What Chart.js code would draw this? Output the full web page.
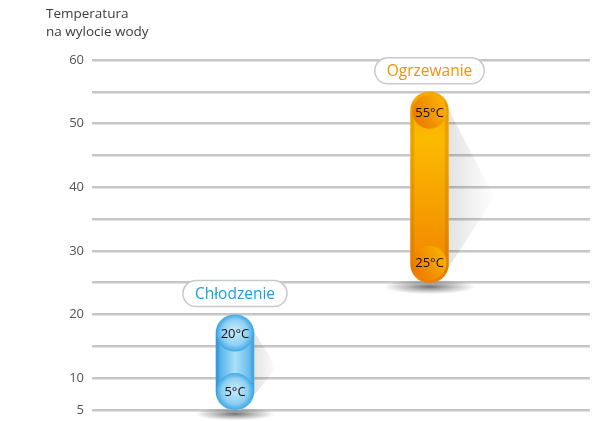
<!DOCTYPE html>
<html>
<head>
<meta charset="utf-8">
<script src="https://cdn.jsdelivr.net/npm/chart.js@4.4.1/dist/chart.umd.min.js"></script>
<style>
  html, body { margin: 0; padding: 0; background: #ffffff; }
  #wrap { width: 602px; height: 421px; }
</style>
</head>
<body>
<div id="wrap"><canvas id="chart" width="602" height="421"></canvas></div>
<script>
// Operating ranges of outlet water temperature (°C)
const categories = ['Chłodzenie', 'Ogrzewanie'];
const lowTemps = [5, 25];
const highTemps = [20, 55];
const labeledTicks = [5, 10, 20, 30, 40, 50, 60];
const axisTitle = ['Temperatura', 'na wylocie wody'];

const FONT = '"Open Sans", "Noto Sans", sans-serif';

// Visual theme per category
const themes = [
  { text: '#1c9fdb', kind: 'cool' },
  { text: '#f39200', kind: 'warm' }
];

function roundRect(ctx, x, y, w, h, r) {
  ctx.beginPath();
  ctx.moveTo(x + r, y);
  ctx.lineTo(x + w - r, y);
  ctx.arc(x + w - r, y + r, r, -Math.PI / 2, 0);
  ctx.lineTo(x + w, y + h - r);
  ctx.arc(x + w - r, y + h - r, r, 0, Math.PI / 2);
  ctx.lineTo(x + r, y + h);
  ctx.arc(x + r, y + h - r, r, Math.PI / 2, Math.PI);
  ctx.lineTo(x, y + r);
  ctx.arc(x + r, y + r, r, Math.PI, Math.PI * 1.5);
  ctx.closePath();
}

function barFill(context) {
  const chart = context.chart;
  const i = context.dataIndex;
  if (!chart.chartArea || i === undefined) return '#f5a000';
  const ctx = chart.ctx;
  const ys = chart.scales.y;
  const xs = chart.scales.x;
  const top = ys.getPixelForValue(highTemps[i]);
  const bottom = ys.getPixelForValue(lowTemps[i]);
  if (themes[i].kind === 'warm') {
    const g = ctx.createLinearGradient(0, top, 0, bottom);
    g.addColorStop(0, '#f7a800');
    g.addColorStop(0.25, '#fbba00');
    g.addColorStop(0.6, '#f6a000');
    g.addColorStop(1, '#f08000');
    return g;
  }
  const cx = xs.getPixelForValue(i);
  const g = ctx.createLinearGradient(cx - 19, 0, cx + 19, 0);
  g.addColorStop(0, '#3aa7e6');
  g.addColorStop(0.5, '#ace0f8');
  g.addColorStop(1, '#4fb2ea');
  return g;
}

// Shadows, end caps, value texts and category badges around each range bar
const pillDecor = {
  id: 'pillDecor',
  beforeDatasetsDraw(chart) {
    const ctx = chart.ctx;
    const meta = chart.getDatasetMeta(0);
    meta.data.forEach((bar, i) => {
      const { x, y, base, width } = bar.getProps(['x', 'y', 'base', 'width'], true);
      const h = base - y;
      const right = x + width / 2;
      // slanted soft shadow to the right
      const dx = Math.min(46, h * 0.24);
      ctx.save();
      const sg = ctx.createLinearGradient(right, 0, right + dx, 0);
      sg.addColorStop(0, 'rgba(0,0,0,0.11)');
      sg.addColorStop(1, 'rgba(0,0,0,0)');
      ctx.fillStyle = sg;
      ctx.beginPath();
      ctx.moveTo(right - 2, y + 14);
      ctx.lineTo(right + dx, y + h * 0.55);
      ctx.lineTo(right - 2, base - 12);
      ctx.closePath();
      ctx.fill();
      // floor shadow
      const rx = themes[i].kind === 'warm' ? 46 : 40;
      ctx.translate(x, base + 4);
      ctx.scale(1, 0.16);
      const rg = ctx.createRadialGradient(0, 0, 0, 0, 0, rx);
      rg.addColorStop(0, 'rgba(0,0,0,0.55)');
      rg.addColorStop(0.5, 'rgba(0,0,0,0.25)');
      rg.addColorStop(1, 'rgba(0,0,0,0)');
      ctx.fillStyle = rg;
      ctx.beginPath();
      ctx.arc(0, 0, rx, 0, Math.PI * 2);
      ctx.fill();
      ctx.restore();
    });
  },
  afterDatasetsDraw(chart) {
    const ctx = chart.ctx;
    const meta = chart.getDatasetMeta(0);
    meta.data.forEach((bar, i) => {
      const { x, y, base, width } = bar.getProps(['x', 'y', 'base', 'width'], true);
      const theme = themes[i];
      const warm = theme.kind === 'warm';
      const r = warm ? 17 : 18.5;
      const inset = warm ? 20 : 18.5;
      const caps = [
        { cy: y + inset, label: highTemps[i] + '°C' },
        { cy: base - inset, label: lowTemps[i] + '°C' }
      ];
      // edge shading on the body
      ctx.save();
      roundRect(ctx, x - width / 2, y, width, base - y, width / 2);
      ctx.clip();
      const eg = ctx.createLinearGradient(x - width / 2, 0, x + width / 2, 0);
      const edge = warm ? 'rgba(225,110,0,0.3)' : 'rgba(20,120,200,0.25)';
      eg.addColorStop(0, edge);
      eg.addColorStop(0.12, 'rgba(0,0,0,0)');
      eg.addColorStop(0.88, 'rgba(0,0,0,0)');
      eg.addColorStop(1, edge);
      ctx.fillStyle = eg;
      ctx.fillRect(x - width / 2, y, width, base - y);
      ctx.restore();

      caps.forEach(c => {
        ctx.save();
        let g;
        if (warm) {
          g = ctx.createLinearGradient(x - r, c.cy + r * 0.5, x + r, c.cy - r * 0.5);
          g.addColorStop(0, '#ec7600');
          g.addColorStop(1, '#f9b400');
        } else {
          g = ctx.createRadialGradient(x, c.cy - 2, 2, x, c.cy, r);
          g.addColorStop(0, '#c2e7f9');
          g.addColorStop(0.65, '#8fd0f3');
          g.addColorStop(1, '#3fa8e6');
        }
        ctx.fillStyle = g;
        ctx.beginPath();
        ctx.arc(x, c.cy, r, 0, Math.PI * 2);
        ctx.fill();
        ctx.fillStyle = '#111111';
        ctx.font = '13px ' + FONT;
        ctx.textAlign = 'center';
        ctx.textBaseline = 'middle';
        ctx.fillText(c.label, x, c.cy + 1);
        ctx.restore();
      });

      // category badge above the bar
      ctx.save();
      ctx.font = '15.5px ' + FONT;
      const tw = ctx.measureText(categories[i]).width;
      const bw = tw + 24, bh = 26;
      const bcy = y - 21;
      roundRect(ctx, x - bw / 2, bcy - bh / 2, bw, bh, bh / 2);
      ctx.fillStyle = '#ffffff';
      ctx.fill();
      ctx.lineWidth = 1.5;
      ctx.strokeStyle = '#c9c9c9';
      ctx.stroke();
      ctx.fillStyle = theme.text;
      ctx.textAlign = 'center';
      ctx.textBaseline = 'middle';
      ctx.fillText(categories[i], x, bcy + 1);
      ctx.restore();
    });
  },
  afterDraw(chart) {
    const ctx = chart.ctx;
    ctx.save();
    ctx.fillStyle = '#3c3c3c';
    ctx.font = '13.5px ' + FONT;
    ctx.textAlign = 'left';
    ctx.textBaseline = 'alphabetic';
    axisTitle.forEach((line, k) => ctx.fillText(line, 46, 18 + k * 18));
    ctx.restore();
  }
};

new Chart(document.getElementById('chart'), {
  type: 'bar',
  data: {
    datasets: [{
      label: 'Zakres temperatury',
      data: categories.map((c, i) => ({ x: i, y: [lowTemps[i], highTemps[i]] })),
      backgroundColor: barFill,
      borderWidth: 0,
      borderRadius: 19,
      borderSkipped: false,
      barThickness: 38
    }]
  },
  options: {
    responsive: false,
    animation: false,
    devicePixelRatio: 1,
    layout: { padding: { top: 60, bottom: 11, right: 12, left: 0 } },
    plugins: {
      legend: { display: false },
      tooltip: { enabled: false },
      title: { display: false }
    },
    scales: {
      x: {
        type: 'linear',
        display: false,
        offset: false,
        min: -0.735,
        max: 1.825
      },
      y: {
        min: 5,
        max: 60,
        afterFit(scale) {
          scale.width = 92;
          scale.paddingTop = 0;
          scale.paddingBottom = 0;
        },
        border: { display: false },
        grid: {
          color: '#c6c6c6',
          lineWidth: 2.5,
          drawTicks: false
        },
        ticks: {
          stepSize: 5,
          padding: 8,
          color: '#555555',
          font: { family: FONT, size: 13 },
          callback: v => labeledTicks.includes(v) ? String(v) : ''
        }
      }
    }
  },
  plugins: [pillDecor]
});
</script>
</body>
</html>
